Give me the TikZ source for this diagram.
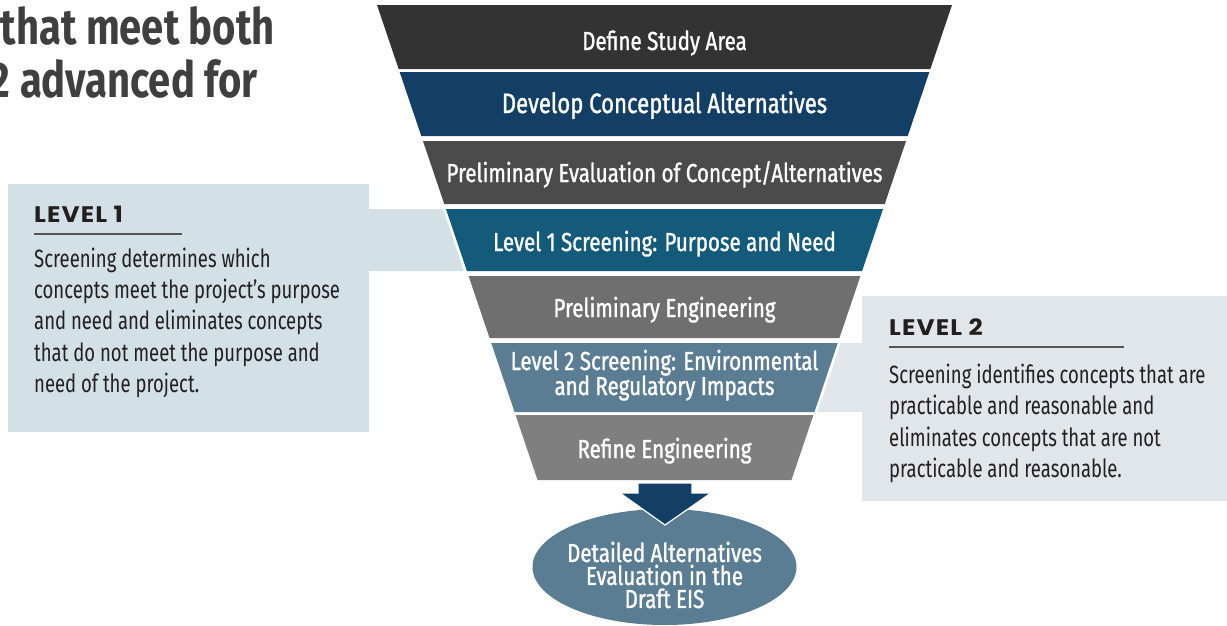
\documentclass[tikz,border=0pt]{standalone}
\usepackage{fontspec}
\setmainfont{Fira Sans}
\newfontfamily\condf{Fira Sans}[FakeStretch=0.74]
\newfontfamily\bandf{Fira Sans}[FakeStretch=0.79,FakeBold=1.2]
\newfontfamily\headf{Fira Sans}[FakeStretch=0.8]
\newfontfamily\levf{Poppins}[LetterSpace=5,FakeStretch=1.1]
\usetikzlibrary{shapes.geometric}
\definecolor{bandA}{HTML}{333333}
\definecolor{bandB}{HTML}{133F66}
\definecolor{bandC}{HTML}{4B4B4B}
\definecolor{bandD}{HTML}{135A7B}
\definecolor{bandE}{HTML}{6F6F6F}
\definecolor{bandF}{HTML}{5A7D93}
\definecolor{bandG}{HTML}{7F7F7F}
\definecolor{lvlone}{HTML}{D3E1E7}
\definecolor{lvltwo}{HTML}{E1E6EA}
\definecolor{txtdark}{HTML}{231F20}
\definecolor{headgray}{HTML}{3F3F3F}
\definecolor{rulec}{HTML}{555555}
\newcommand\fband[3]{\fill[#3] ({377+0.338*(#1-5)},#1) -- ({952-0.338*(#1-5)},#1) -- ({952-0.338*(#2-5)},#2) -- ({377+0.338*(#2-5)},#2) -- cycle;}
\begin{document}
\begin{tikzpicture}[x=1pt,y=-1pt,
  bandtext/.style={text=white,font=\bandf\fontsize{26}{23}\selectfont,anchor=base,inner sep=0},
  bodytext/.style={text=txtdark,font=\condf\fontsize{25}{31}\selectfont,anchor=base west,inner sep=0},
  levtext/.style={text=txtdark,font=\levf\bfseries\fontsize{22.5}{22.5}\selectfont,anchor=base west,inner sep=0},
  headtext/.style={text=headgray,font=\headf\bfseries\fontsize{50}{50}\selectfont,anchor=base east,inner sep=0},
  rule/.style={draw=rulec,line width=1.3pt}]
\useasboundingbox (0,0) rectangle (1227,625);
\clip (0,0) rectangle (1227,625);
% header
\node[headtext] (h1) at (275,44) {that meet both};
\node[headtext] (h2) at (258,97) {2 advanced for};
% level boxes and strips
\fill[lvlone] (8,184) rectangle (369,432);
\fill[lvlone] (368,209) -- ({377+0.338*204-3},209) -- ({377+0.338*266-3},271) -- (368,271) -- cycle;
\fill[lvltwo] (862,296) rectangle (1227,501);
\fill[lvltwo] (863,343) -- ({952-0.338*338+3},343) -- ({952-0.338*407+3},412) -- (863,412) -- cycle;
% funnel bands
\fband{5}{69}{bandA}
\fband{72}{136}{bandB}
\fband{141}{204}{bandC}
\fband{209}{271}{bandD}
\fband{276}{338}{bandE}
\fband{343}{412}{bandF}
\fband{415}{480}{bandG}
\node[bandtext] (t1) at (664.5,50) {Define Study Area};
\node[bandtext,font=\bandf\fontsize{28}{28}\selectfont] (t2) at (664.5,113) {Develop Conceptual Alternatives};
\node[bandtext] (t3) at (664.5,182) {Preliminary Evaluation of Concept/Alternatives};
\node[bandtext] (t4) at (664.5,251) {Level 1 Screening: Purpose and Need};
\node[bandtext] (t5) at (664.5,317) {Preliminary Engineering};
\node[bandtext] (t6a) at (664.5,370) {Level 2 Screening: Environmental};
\node[bandtext] (t6b) at (664.5,395) {and Regulatory Impacts};
\node[bandtext] (t7) at (664.5,458) {Refine Engineering};
% ellipse and arrow
\node[ellipse,fill=bandF,minimum width=264pt,minimum height=116pt,inner sep=0] (eis) at (664.5,567) {};
\fill[bandB,draw=white,line width=1.2pt] (638,483) -- (692,483) -- (692,493) -- (711,493) -- (665,525) -- (620,493) -- (638,493) -- cycle;
\node[bandtext,anchor=center,align=center] (e1) at (664.5,575) {Detailed Alternatives\\Evaluation in the\\Draft EIS};
% level 1 text
\node[levtext] (lv1) at (34,222) {LEVEL 1};
\draw[rule] (34,234) -- (182,234);
\node[bodytext] (a1) at (34,267) {Screening determines which};
\node[bodytext] (a2) at (34,298) {concepts meet the project’s purpose};
\node[bodytext] (a3) at (34,329.5) {and need and eliminates concepts};
\node[bodytext] (a4) at (34,361) {that do not meet the purpose and};
\node[bodytext] (a5) at (34,392) {need of the project.};
% level 2 text
\node[levtext] (lv2) at (889,335) {LEVEL 2};
\draw[rule] (889,347) -- (1124,347);
\node[bodytext] (b1) at (889,383) {Screening identifies concepts that are};
\node[bodytext] (b2) at (889,414) {practicable and reasonable and};
\node[bodytext] (b3) at (889,446) {eliminates concepts that are not};
\node[bodytext] (b4) at (889,477) {practicable and reasonable.};
\end{tikzpicture}
\end{document}
